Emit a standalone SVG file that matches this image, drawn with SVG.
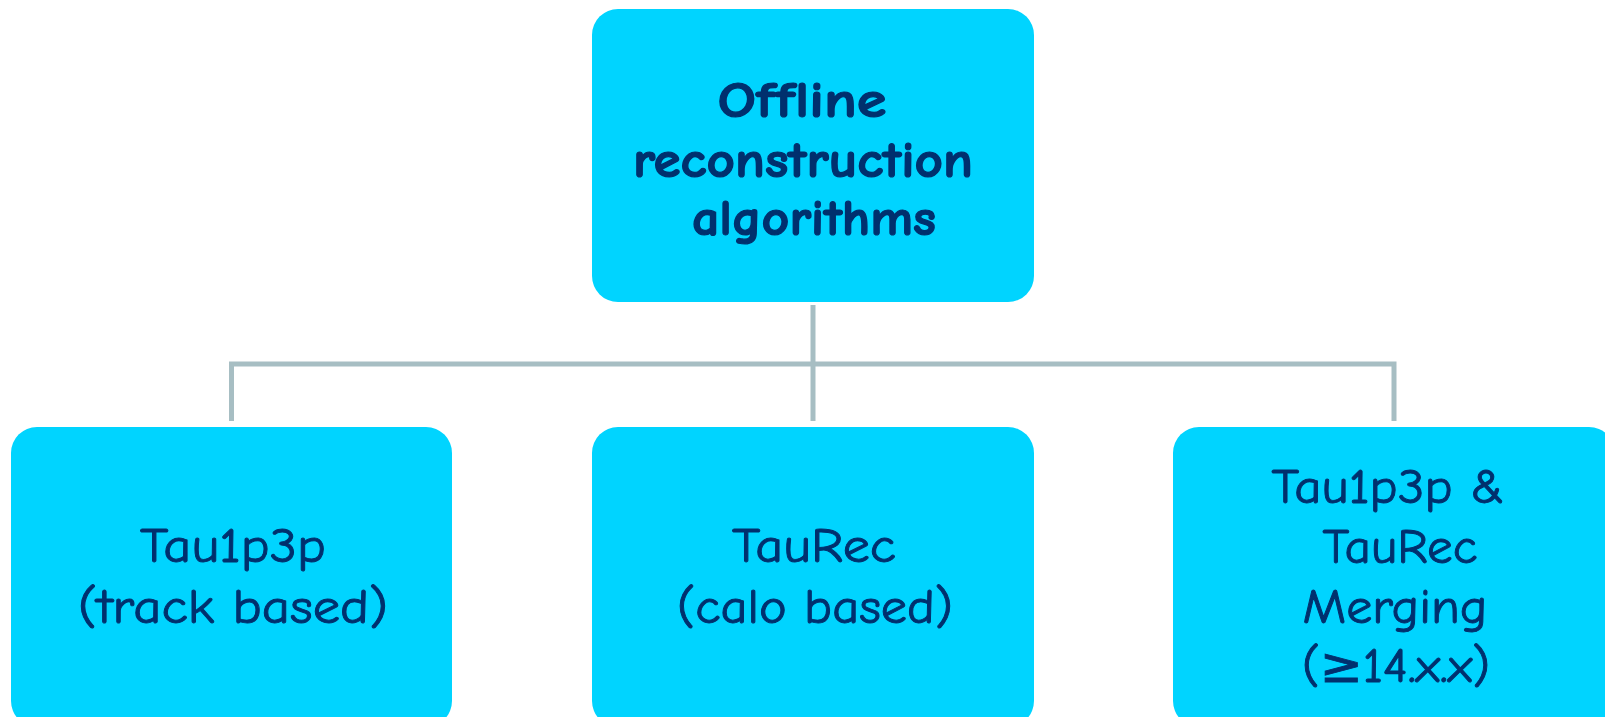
<svg xmlns="http://www.w3.org/2000/svg" width="1605" height="717" viewBox="0 0 1605 717">
  <style>
    .box { fill: #00D4FF; }
    .link { fill: none; stroke: #A7BEC3; stroke-width: 5; stroke-linejoin: miter; }
    .title { font-family: "Comic Sans MS", "Comic Neue", "DejaVu Sans", sans-serif; font-weight: bold; font-size: 50px; fill: #00306E; stroke: #00306E; stroke-width: 1.2px; text-anchor: middle; }
    .label { font-family: "Comic Sans MS", "Comic Neue", "DejaVu Sans", sans-serif; font-size: 48px; fill: #00306E; stroke: #00306E; stroke-width: 0.9px; text-anchor: middle; }
  </style>

  <!-- tree connectors -->
  <g id="connectors">
    <path class="link" d="M813,305 V421"/>
    <path class="link" d="M231.5,421 V364 H1394 V421"/>
  </g>

  <!-- root node -->
  <g id="node-offline">
    <rect class="box" x="592" y="9" width="442" height="293" rx="26" ry="26"/>
    <text class="title" x="802" y="117" textLength="169" lengthAdjust="spacingAndGlyphs">Offline</text>
    <text class="title" x="803" y="177" textLength="340" lengthAdjust="spacingAndGlyphs">reconstruction</text>
    <text class="title" x="814" y="235" textLength="244" lengthAdjust="spacingAndGlyphs">algorithms</text>
  </g>

  <!-- child nodes -->
  <g id="node-tau1p3p">
    <rect class="box" x="11" y="427" width="441" height="300" rx="26" ry="26"/>
    <text class="label" x="233" y="562" textLength="186" lengthAdjust="spacingAndGlyphs">Tau1p3p</text>
    <text class="label" x="233" y="623" textLength="310" lengthAdjust="spacingAndGlyphs">(track based)</text>
  </g>

  <g id="node-taurec">
    <rect class="box" x="592" y="427" width="442" height="300" rx="26" ry="26"/>
    <text class="label" x="814" y="562" textLength="164" lengthAdjust="spacingAndGlyphs">TauRec</text>
    <text class="label" x="815" y="623" textLength="276" lengthAdjust="spacingAndGlyphs">(calo based)</text>
  </g>

  <g id="node-merging">
    <rect class="box" x="1173" y="427" width="442" height="300" rx="26" ry="26"/>
    <text class="label" x="1388" y="503" textLength="233" lengthAdjust="spacingAndGlyphs">Tau1p3p &amp;</text>
    <text class="label" x="1400" y="563" textLength="155" lengthAdjust="spacingAndGlyphs">TauRec</text>
    <text class="label" x="1395" y="623" textLength="185" lengthAdjust="spacingAndGlyphs">Merging</text>
    <text class="label" x="1396" y="682" textLength="188" lengthAdjust="spacingAndGlyphs">(≥14.x.x)</text>
  </g>
</svg>
